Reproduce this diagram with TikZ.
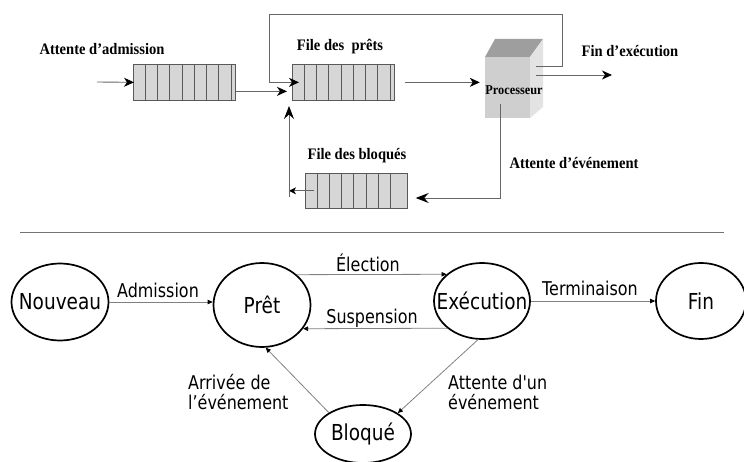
\documentclass[tikz,border=0pt]{standalone}
\usepackage{fontspec}
\setmainfont{DejaVu Sans}
\newfontfamily\serf[FakeStretch=0.91]{Liberation Serif}
\newfontfamily\sanf[FakeStretch=0.84]{DejaVu Sans}
\usetikzlibrary{arrows.meta,shapes.geometric}
\begin{document}
\begin{tikzpicture}[x=1pt,y=-1pt,
  qlabel/.style={font=\serf\bfseries\fontsize{16}{18}\selectfont, inner sep=0},
  cpulabel/.style={font=\serf\bfseries\fontsize{13.5}{15}\selectfont, inner sep=0},
  qline/.style={draw=black!60, line width=0.9pt},
  qarrow/.style={qline, -{Stealth[length=10pt,width=9pt,inset=3pt,color=black]}},
  smallarrow/.style={qline, -{Stealth[length=7pt,width=7pt,inset=2pt,color=black]}},
  bigarrow/.style={qline, -{Stealth[length=13pt,width=10pt,inset=4.5pt,color=black]}},
  queuebox/.style={rectangle, draw=black!65, fill=black!16, line width=0.7pt, inner sep=0, minimum width=102},
  divider/.style={draw=black!65, line width=0.7pt},
  state/.style={ellipse, draw=black, line width=1.7pt, inner sep=0, font=\sanf\fontsize{22}{24}\selectfont},
  tlabel/.style={font=\sanf\fontsize{19}{20}\selectfont, inner sep=0},
  tarrow/.style={draw=black!50, line width=0.8pt, -{Triangle[length=5pt,width=4.5pt,color=black]}},
]
\useasboundingbox (0,0) rectangle (744,462);

% ---------- top part: queues ----------
\node[queuebox, minimum height=36, anchor=north west] (q1) at (133,64) {};
\foreach \k in {1,...,8} \draw[divider] ([xshift={\k*12.25pt}]q1.north west) -- ([xshift={\k*12.25pt}]q1.south west);
\node[queuebox, minimum height=36, anchor=north west] (q2) at (292,64) {};
\foreach \k in {1,...,8} \draw[divider] ([xshift={\k*12.25pt}]q2.north west) -- ([xshift={\k*12.25pt}]q2.south west);
\node[queuebox, minimum height=35, anchor=north west] (q3) at (305,173) {};
\foreach \k in {1,...,7} \draw[divider] ([xshift={\k*12.2pt}]q3.north west) -- ([xshift={\k*12.2pt}]q3.south west);

% processor cube
\fill[black!38] (485,57) -- (495,39) -- (543,39) -- (530,57) -- cycle;
\fill[black!19] (485,57) rectangle (530,118);
\fill[black!11] (530,57) -- (543,39) -- (543,107) -- (530,118) -- cycle;
\node[minimum width=45, minimum height=61, inner sep=0] (cpu) at (507.5,87.5) {};
\node[cpulabel] (cpulbl) at (514,90) {Processeur};

% labels
\node[qlabel] (ladm) at (102,49) {Attente d’admission};
\node[qlabel] (lpret) at (340,47) {File des\ \ prêts};
\node[qlabel] (lbloq) at (357,156) {File des bloqués};
\node[qlabel] (lfin) at (630,51) {Fin d’exécution};
\node[qlabel] (latt) at (574,163) {Attente d’événement};

% connectors
\coordinate (in) at (97,82);
\coordinate (lp1) at (562,14);
\coordinate (lp2) at (269,14);
\coordinate (finend) at (612,75);
\coordinate (dn) at (500,198);
\coordinate (upbot) at (289,197);
\coordinate (uptip) at (289,106);
\draw[qarrow] (in) -- ([xshift=1pt]q1.west);
\draw[qarrow] ([yshift=-9pt]q1.east) -- ([xshift=-5pt,yshift=-9pt]q2.west);
\draw[qarrow] ([xshift=6pt,yshift=21.5pt]cpu.east) -| (lp1) -- (lp2) |- ([xshift=7pt]q2.west);
\draw[qarrow] ([xshift=10pt]q2.east) -- ([xshift=-5pt]cpu.west |- q2.east);
\draw[qarrow] ([xshift=6pt,yshift=12.5pt]cpu.east) -- (finend);
\draw[bigarrow] ([xshift=-7.5pt,yshift=-16.5pt]cpu.center) -- (dn) -- ([xshift=8pt]q3.east |- dn);
\draw[smallarrow] ([xshift=9pt]q3.west) -- ([xshift=-16pt]q3.west);
\draw[bigarrow] (upbot) -- (uptip);

% separator
\coordinate (sepL) at (20,233);
\coordinate (sepR) at (724,233);
\draw[black!55, line width=1pt] (sepL) -- (sepR);

% ---------- bottom part: state diagram ----------
\node[state, minimum width=97, minimum height=77] (nouveau) at (60,302) {\makebox[0pt]{Nouveau}};
\node[state, minimum width=97, minimum height=84] (pret) at (262,305) {\makebox[0pt]{Prêt}};
\node[state, minimum width=96, minimum height=76] (exec) at (482,301) {\makebox[0pt]{Exécution}};
\node[state, minimum width=90, minimum height=76] (fin) at (701,301) {\makebox[0pt]{Fin}};
\node[state, minimum width=96, minimum height=58] (bloque) at (363,434) {\makebox[0pt]{Bloqué}};

\draw[tarrow] (nouveau.east) -- (nouveau.east -| pret.west);
\draw[tarrow] (pret.41.8) -- (exec.143.4);
\draw[tarrow] (exec.218.6) -- (pret.330.2);
\draw[tarrow] (exec.east) -- (fin.west);
\draw[tarrow] (exec.264) -- (bloque.31);
\draw[tarrow] (bloque.148) -- (pret.275);

\node[tlabel] (ladm2) at (158,290) {Admission};
\node[tlabel] (lel) at (368,263) {Élection};
\node[tlabel] (lsus) at (372,318) {Suspension};
\node[tlabel] (lterm) at (590,288) {Terminaison};
\node[tlabel, align=left, anchor=west] (larr) at (188,392) {Arrivée de\\l’événement};
\node[tlabel, align=left, anchor=west] (latt2) at (448,392) {Attente d'un\\événement};
\end{tikzpicture}
\end{document}
